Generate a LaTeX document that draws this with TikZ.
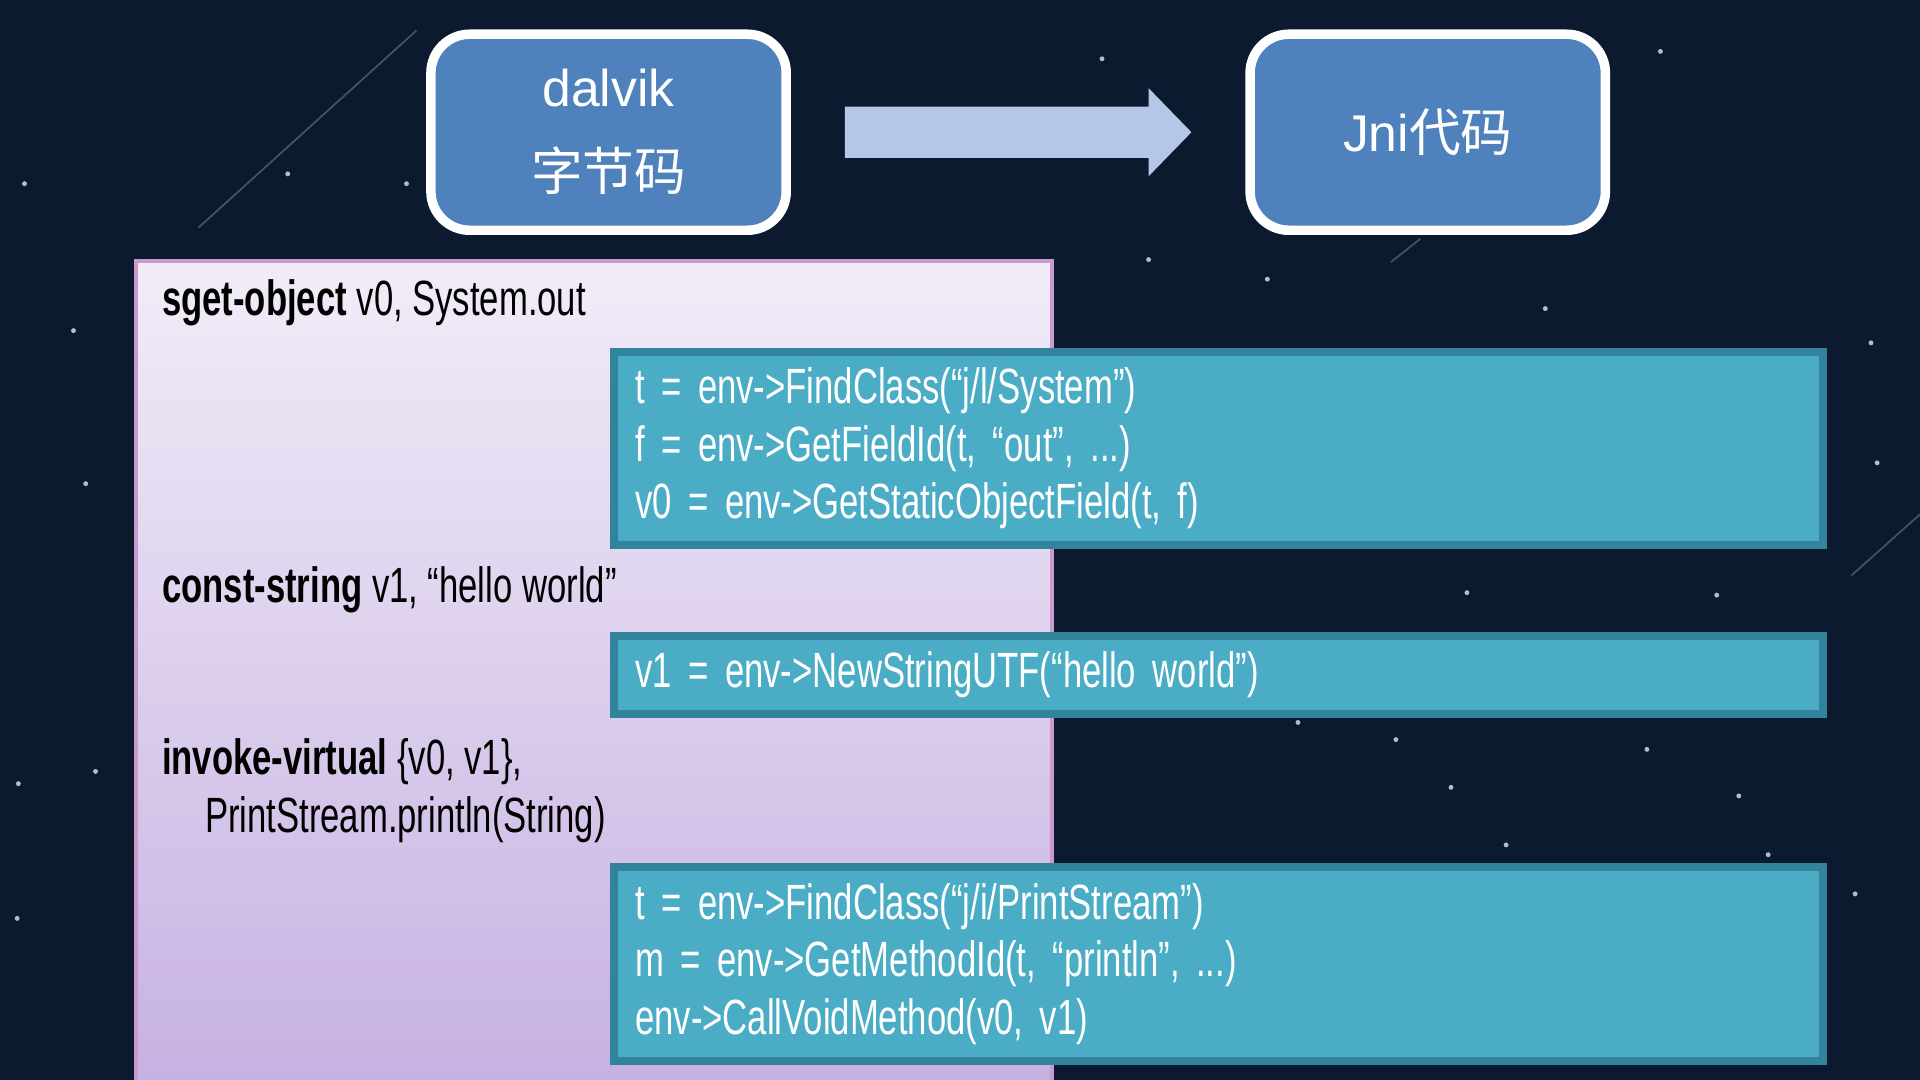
\documentclass[tikz,border=0pt]{standalone}
\usepackage{fontspec}
\setmainfont{Liberation Sans}[FakeStretch=0.7]
\newfontfamily\bodyf{Liberation Sans}
\newfontfamily\cjk{Noto Sans CJK SC}
\usetikzlibrary{positioning}
\definecolor{bg}{HTML}{0B1A2E}
\definecolor{bluebox}{HTML}{4F81BD}
\definecolor{teal}{HTML}{4BACC6}
\definecolor{tealb}{HTML}{31849B}
\definecolor{arr}{HTML}{B4C7E7}
\definecolor{ptop}{HTML}{F2ECF8}
\definecolor{pbot}{HTML}{C6B2E2}
\tikzset{
  top/.style={draw=white,line width=2.2pt,rounded corners=9pt,fill=bluebox,text=white,align=center,font=\bodyf\fontsize{12}{19.5}\selectfont,minimum width=2.9cm,minimum height=1.6cm},
  code/.style={draw=tealb,line width=1.8pt,fill=teal,text=white,align=left,anchor=north west,font=\fontsize{11.5}{13.4}\selectfont,inner xsep=5pt,text width=9.52cm},
  dal/.style={anchor=west,align=left,text=black,font=\fontsize{11.5}{13.4}\selectfont}
}
\begin{document}
\begin{tikzpicture}[x=0.01cm,y=-0.01cm]
\useasboundingbox (0,0) rectangle (1568,882);
\fill[bg] (0,0) rectangle (1568,882);
\foreach \x/\y in {20/150,60/270,70/395,15/640,78/630,235/142,332/150,900/48,1356/42,1528/280,1533/378,1402/486,1198/484,1140/604,1420/650,1444/698,1515/730,1035/228,1060/590,938/212,1262/252,1345/612,14/750,1185/643,1230/690}
  \fill[white!80!cyan,opacity=0.8] (\x,\y) circle (2);
\draw[white,opacity=0.25] (162,186) -- (340,25);
\draw[white,opacity=0.25] (1512,470) -- (1568,420);
\draw[white,opacity=0.25] (1136,214) -- (1160,195);
\shade[top color=ptop,bottom color=pbot] (111,213) rectangle (859,882);
\draw[violet!40,line width=0.8pt] (111,882) -- (111,213) -- (859,213) -- (859,882);
\node[top] (dalvik) at (497,108) {dalvik\\{\cjk 字节码}};
\node[top] (jni) at (1166,108) {Jni{\cjk 代码}};
\fill[arr] (690,87) -- (938,87) -- (938,72) -- (973,108) -- (938,144) -- (938,129) -- (690,129) -- cycle;
\node[dal] (s1) at (120,247) {\textbf{sget-object} v0, System.out};
\node[dal] (s2) at (120,482) {\textbf{const-string} v1, “hello world”};
\node[dal] (s3) at (120,646) {\textbf{invoke-virtual} \{v0, v1\},\\\hspace{3.5mm}PrintStream.println(String)};
\node[code,minimum height=1.58cm] (c1) at (498,284) {t = env->FindClass(“j/l/System”)\\f = env->GetFieldId(t, “out”, ...)\\v0 = env->GetStaticObjectField(t, f)};
\node[code,minimum height=0.64cm] (c2) at (498,516) {v1 = env->NewStringUTF(“hello world”)};
\node[code,minimum height=1.58cm] (c3) at (498,705) {t = env->FindClass(“j/i/PrintStream”)\\m = env->GetMethodId(t, “println”, ...)\\env->CallVoidMethod(v0, v1)};
\end{tikzpicture}
\end{document}
